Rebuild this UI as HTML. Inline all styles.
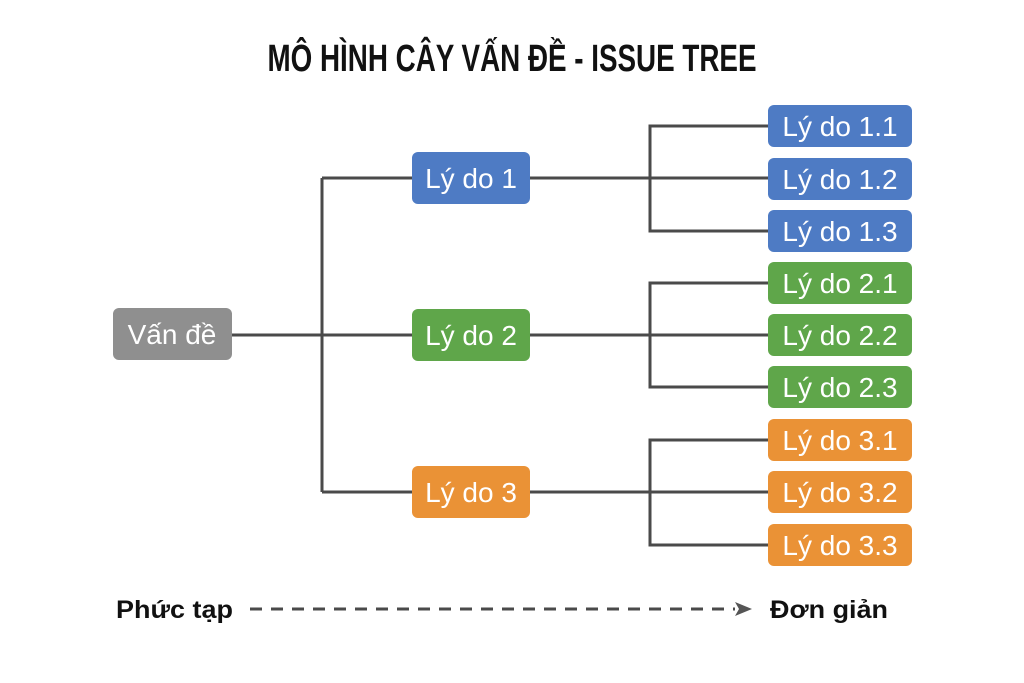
<!DOCTYPE html>
<html><head><meta charset="utf-8"><style>
body{margin:0;width:1024px;height:683px;background:#fff;overflow:hidden;font-family:"Liberation Sans",sans-serif}
svg{position:absolute;left:0;top:0}
</style></head><body>
<svg width="1024" height="683" viewBox="0 0 1024 683">
<text x="512" y="71" text-anchor="middle" font-family="Liberation Sans Narrow, Liberation Sans, sans-serif" font-weight="bold" font-size="38" fill="#111" textLength="489" lengthAdjust="spacingAndGlyphs">MÔ HÌNH CÂY VẤN ĐỀ - ISSUE TREE</text>
<g stroke="#4a4a4a" stroke-width="3" fill="none">
<line x1="232" y1="335" x2="412" y2="335"/>
<line x1="322" y1="178" x2="322" y2="492"/>
<line x1="322" y1="178" x2="412" y2="178"/>
<line x1="322" y1="492" x2="412" y2="492"/>
<line x1="530" y1="178" x2="768" y2="178"/>
<line x1="530" y1="335" x2="768" y2="335"/>
<line x1="530" y1="492" x2="768" y2="492"/>
<path d="M768 126H650V231H768M768 283H650V387H768M768 440H650V545H768"/>
<line x1="250" y1="609" x2="735" y2="609" stroke-dasharray="12 9"/>
</g>
<path d="M735 602L752 609L735 616L739 609Z" fill="#555"/>
<g font-size="28" fill="#fff" text-anchor="middle">
<rect x="113" y="308" width="119" height="52" rx="6" fill="#8f8f8f"/><text x="172" y="344">Vấn đề</text>
<rect x="412" y="152" width="118" height="52" rx="6" fill="#4e7bc4"/><text x="471" y="188">Lý do 1</text>
<rect x="412" y="309" width="118" height="52" rx="6" fill="#5fa64a"/><text x="471" y="345">Lý do 2</text>
<rect x="412" y="466" width="118" height="52" rx="6" fill="#ea9236"/><text x="471" y="502">Lý do 3</text>
<rect x="768" y="105" width="144" height="42" rx="6" fill="#4e7bc4"/><text x="840" y="136">Lý do 1.1</text>
<rect x="768" y="158" width="144" height="42" rx="6" fill="#4e7bc4"/><text x="840" y="189">Lý do 1.2</text>
<rect x="768" y="210" width="144" height="42" rx="6" fill="#4e7bc4"/><text x="840" y="241">Lý do 1.3</text>
<rect x="768" y="262" width="144" height="42" rx="6" fill="#5fa64a"/><text x="840" y="293">Lý do 2.1</text>
<rect x="768" y="314" width="144" height="42" rx="6" fill="#5fa64a"/><text x="840" y="345">Lý do 2.2</text>
<rect x="768" y="366" width="144" height="42" rx="6" fill="#5fa64a"/><text x="840" y="397">Lý do 2.3</text>
<rect x="768" y="419" width="144" height="42" rx="6" fill="#ea9236"/><text x="840" y="450">Lý do 3.1</text>
<rect x="768" y="471" width="144" height="42" rx="6" fill="#ea9236"/><text x="840" y="502">Lý do 3.2</text>
<rect x="768" y="524" width="144" height="42" rx="6" fill="#ea9236"/><text x="840" y="555">Lý do 3.3</text>
</g>
<g font-weight="bold" font-size="25" fill="#111">
<text x="116" y="618" textLength="117" lengthAdjust="spacingAndGlyphs">Phức tạp</text>
<text x="770" y="618" textLength="118" lengthAdjust="spacingAndGlyphs">Đơn giản</text>
</g>
</svg>
</body></html>
